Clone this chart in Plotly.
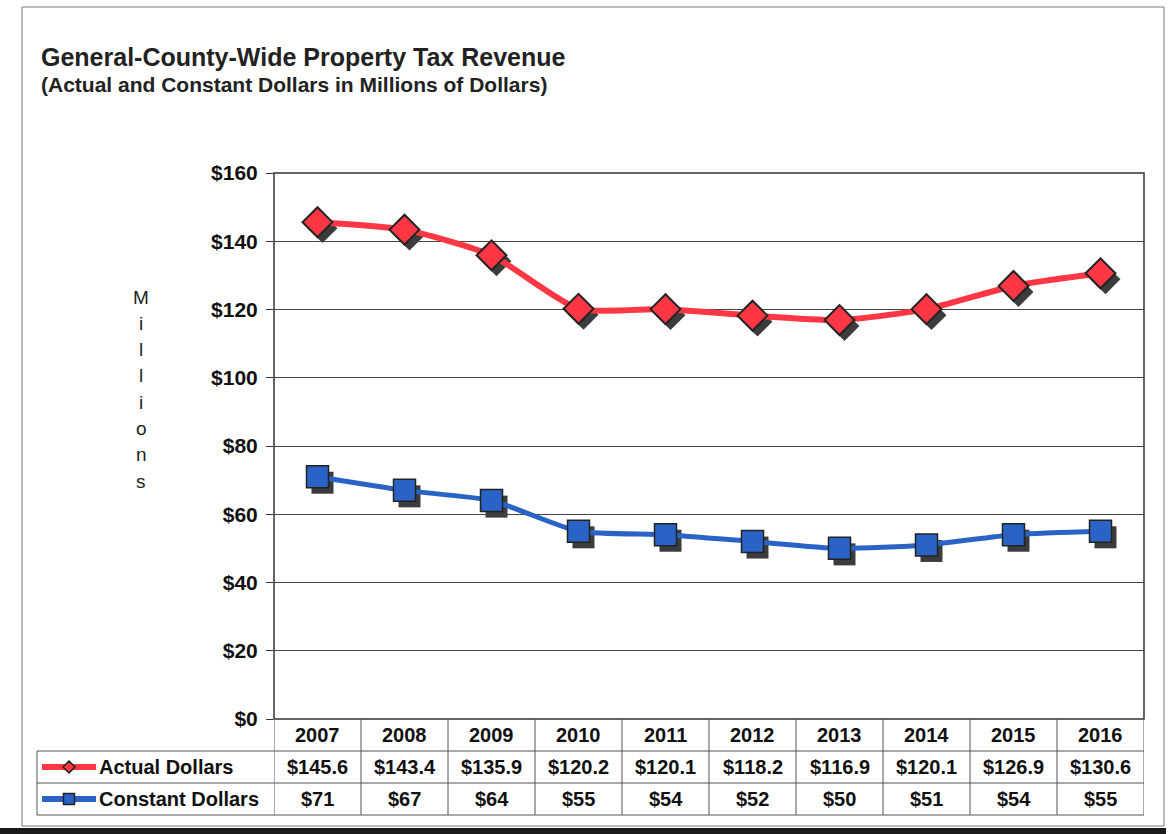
import plotly.graph_objects as go

years = ["2007", "2008", "2009", "2010", "2011", "2012", "2013", "2014", "2015", "2016"]
actual = [145.6, 143.4, 135.9, 120.2, 120.1, 118.2, 116.9, 120.1, 126.9, 130.6]
constant = [71, 67, 64, 55, 54, 52, 50, 51, 54, 55]
actual_labels = ["$145.6", "$143.4", "$135.9", "$120.2", "$120.1", "$118.2", "$116.9", "$120.1", "$126.9", "$130.6"]
constant_labels = ["$71", "$67", "$64", "$55", "$54", "$52", "$50", "$51", "$54", "$55"]
y_ticks = [0, 20, 40, 60, 80, 100, 120, 140, 160]
y_ticklabels = ["$" + str(v) for v in y_ticks]

W, H = 1170, 834
def px(x):
    return x / W
def py(y):
    return 1 - y / H

RED = "#FF3644"
BLUE = "#2A63C6"
SHADOW = "#3a3d3c"
FONT = "Liberation Sans, Arial, sans-serif"

plot_l, plot_r, plot_t, plot_b = 274, 1144, 173, 719
row1, row2, row3 = 751, 783, 815
left_col = 37
sdx, sdy = 5, 6  # shadow offset in pixels

fig = go.Figure()
# shadows (on offset, hidden axes x/y)
fig.add_trace(go.Scatter(
    x=years, y=actual, mode="markers", xaxis="x", yaxis="y", hoverinfo="skip",
    marker=dict(symbol="diamond", size=23, color=SHADOW, line=dict(width=0)),
))
fig.add_trace(go.Scatter(
    x=years, y=constant, mode="markers", xaxis="x", yaxis="y", hoverinfo="skip",
    marker=dict(symbol="square", size=22, color=SHADOW, line=dict(width=0)),
))
# main series (on visible axes x2/y2)
fig.add_trace(go.Scatter(
    x=years, y=actual, mode="lines+markers", name="Actual Dollars", xaxis="x2", yaxis="y2",
    line=dict(color=RED, width=6, shape="spline", smoothing=0.6),
    marker=dict(symbol="diamond", size=23, color=RED, line=dict(color="#222222", width=2)),
))
fig.add_trace(go.Scatter(
    x=years, y=constant, mode="lines+markers", name="Constant Dollars", xaxis="x2", yaxis="y2",
    line=dict(color=BLUE, width=5, shape="spline", smoothing=0.6),
    marker=dict(symbol="square", size=22, color=BLUE, line=dict(color="#222222", width=1.5)),
))

shapes = []
annotations = []

# plot frame
shapes.append(dict(type="rect", xref="paper", yref="paper", x0=px(plot_l), x1=px(plot_r),
                   y0=py(plot_b), y1=py(plot_t), line=dict(color="#333333", width=1.5)))
# outer frame
shapes.append(dict(type="rect", xref="paper", yref="paper", x0=px(22), x1=px(1164),
                   y0=py(826), y1=py(7), line=dict(color="#777777", width=1)))
# dark bottom edge
shapes.append(dict(type="rect", xref="paper", yref="paper", x0=0, x1=px(1166),
                   y0=0, y1=py(828), line=dict(width=0), fillcolor="#1a1a1a"))

# data table lines
for yy in [row1, row2, row3]:
    shapes.append(dict(type="line", xref="paper", yref="paper", x0=px(left_col), x1=px(plot_r),
                       y0=py(yy), y1=py(yy), line=dict(color="#555555", width=1)))
shapes.append(dict(type="line", xref="paper", yref="paper", x0=px(left_col), x1=px(left_col),
                   y0=py(row1), y1=py(row3), line=dict(color="#555555", width=1)))
for k in range(len(years) + 1):
    shapes.append(dict(type="line", xref="x2", yref="paper", x0=k - 0.5, x1=k - 0.5,
                       y0=py(plot_b), y1=py(row3), line=dict(color="#555555", width=1)))

# legend keys in table
for (ry0, ry1, col, sym) in [(row1, row2, RED, "diamond"), (row2, row3, BLUE, "square")]:
    cy = (ry0 + ry1) / 2
    shapes.append(dict(type="line", xref="paper", yref="paper", x0=px(42), x1=px(96),
                       y0=py(cy), y1=py(cy), line=dict(color=col, width=6)))
    cx = 69
    if sym == "diamond":
        s = 6
        path = (f"M {px(cx)} {py(cy - s)} L {px(cx + s)} {py(cy)} L {px(cx)} {py(cy + s)} "
                f"L {px(cx - s)} {py(cy)} Z")
        shapes.append(dict(type="path", xref="paper", yref="paper", path=path,
                           fillcolor=col, line=dict(color="#222222", width=1.5)))
    else:
        s = 5.5
        shapes.append(dict(type="rect", xref="paper", yref="paper", x0=px(cx - s), x1=px(cx + s),
                           y0=py(cy + s), y1=py(cy - s), fillcolor=col,
                           line=dict(color="#222222", width=1.5)))

cell_font = dict(family=FONT, size=20, color="#111111")
def cell(x, y, text, xref="x2", xanchor="center"):
    annotations.append(dict(x=x, y=y, xref=xref, yref="paper", xanchor=xanchor, yanchor="middle",
                            text=text, showarrow=False, font=cell_font))

for i, yr in enumerate(years):
    cell(i, py((plot_b + row1) / 2), "<b>" + yr + "</b>")
    cell(i, py((row1 + row2) / 2), "<b>" + actual_labels[i] + "</b>")
    cell(i, py((row2 + row3) / 2), "<b>" + constant_labels[i] + "</b>")

cell(px(97), py((row1 + row2) / 2), "<b>Actual Dollars</b>", xref="paper", xanchor="left")
cell(px(97), py((row2 + row3) / 2), "<b>Constant Dollars</b>", xref="paper", xanchor="left")

# titles
annotations.append(dict(x=px(39), y=py(57), xref="paper", yref="paper", xanchor="left",
                        yanchor="middle", showarrow=False,
                        text="<b>General-County-Wide Property Tax Revenue</b>",
                        font=dict(family=FONT, size=25, color="#222222")))
annotations.append(dict(x=px(39), y=py(84), xref="paper", yref="paper", xanchor="left",
                        yanchor="middle", showarrow=False,
                        text="<b>(Actual and Constant Dollars in Millions of Dollars)</b>",
                        font=dict(family=FONT, size=21, color="#222222")))

# vertical axis title, stacked letters
axis_title = "Millions"
for j, ch in enumerate(axis_title):
    annotations.append(dict(x=px(141), y=py(297 + j * 26.3), xref="paper", yref="paper",
                            xanchor="center", yanchor="middle",
                            showarrow=False, text=ch,
                            font=dict(family=FONT, size=19, color="#222222")))

fig.update_layout(
    width=W, height=H, autosize=False,
    margin=dict(l=0, r=0, t=0, b=0, pad=0, autoexpand=False),
    paper_bgcolor="white", plot_bgcolor="rgba(0,0,0,0)",
    showlegend=False,
    # shadow axes, shifted a few pixels right/down, hidden
    xaxis=dict(domain=[px(plot_l + sdx), px(plot_r + sdx)], type="category",
               range=[-0.5, len(years) - 0.5], visible=False, anchor="y"),
    yaxis=dict(domain=[py(plot_b + sdy), py(plot_t + sdy)], range=[0, 160], visible=False,
               anchor="x"),
    # visible axes
    xaxis2=dict(domain=[px(plot_l), px(plot_r)], type="category", range=[-0.5, len(years) - 0.5],
                showticklabels=False, showgrid=False, zeroline=False, ticks="", anchor="y2"),
    yaxis2=dict(domain=[py(plot_b), py(plot_t)], range=[0, 160], tickvals=y_ticks, anchor="x2",
                ticktext=["<b>" + t + "</b>" for t in y_ticklabels],
                tickfont=dict(family=FONT, size=21, color="#111111"),
                ticks="outside", ticklen=7, tickcolor="#333333", ticklabelstandoff=4,
                showgrid=True, gridcolor="#444444", gridwidth=1, zeroline=False,
                showline=False),
    shapes=shapes, annotations=annotations,
)

fig.write_html("out.html",
               config={"responsive": False, "displayModeBar": False},
               post_script="document.body.style.margin='0';document.documentElement.style.overflow='hidden';")
